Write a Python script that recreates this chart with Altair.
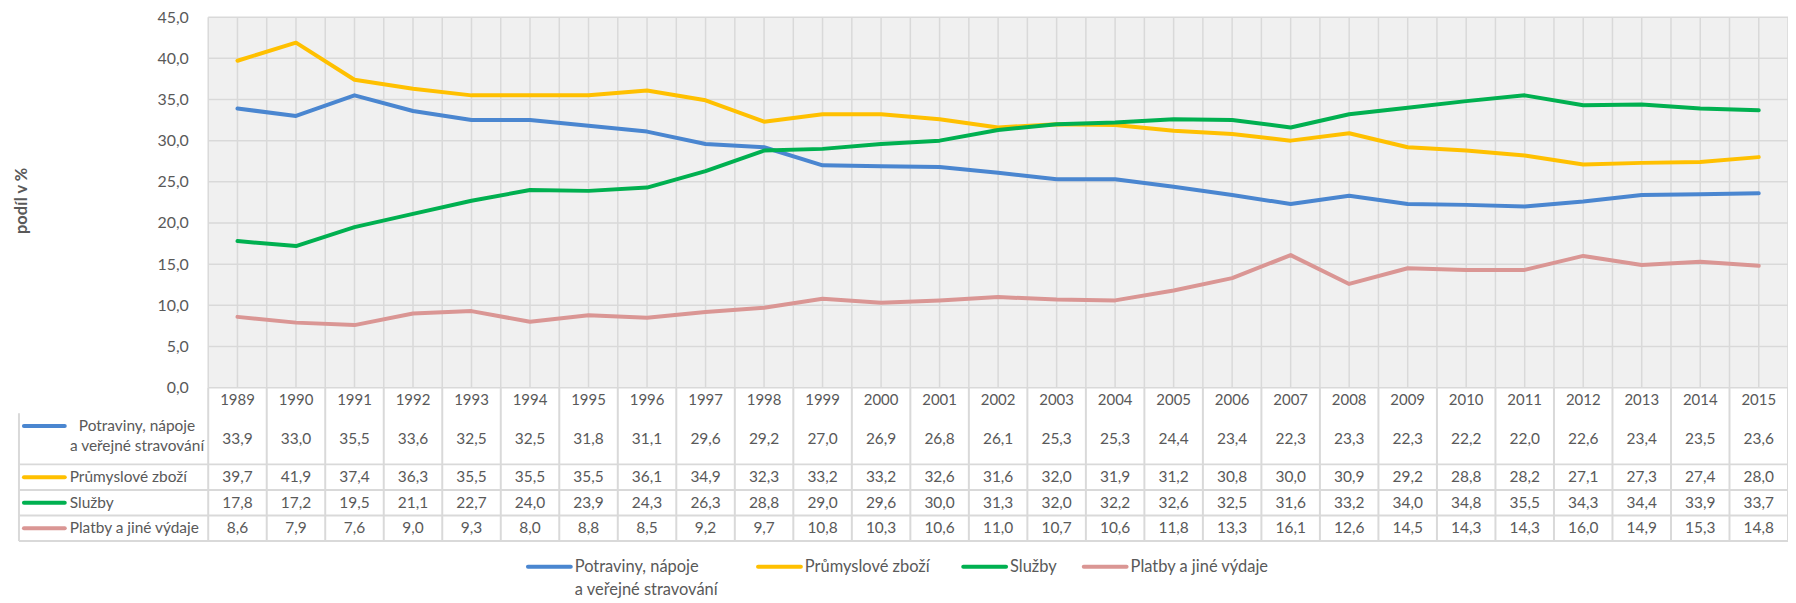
import altair as alt
import pandas as pd

# ---------------- data ----------------
years = list(range(1989, 2016))
series = ["Potraviny, nápoje a veřejné stravování", "Průmyslové zboží", "Služby", "Platby a jiné výdaje"]
series_lines = [["Potraviny, nápoje", "a veřejné stravování"], ["Průmyslové zboží"], ["Služby"], ["Platby a jiné výdaje"]]
colors = ["#4A86D0", "#FFC000", "#00B050", "#DA9694"]

potraviny = [33.9, 33.0, 35.5, 33.6, 32.5, 32.5, 31.8, 31.1, 29.6, 29.2, 27.0, 26.9, 26.8, 26.1,
             25.3, 25.3, 24.4, 23.4, 22.3, 23.3, 22.3, 22.2, 22.0, 22.6, 23.4, 23.5, 23.6]
prumysl = [39.7, 41.9, 37.4, 36.3, 35.5, 35.5, 35.5, 36.1, 34.9, 32.3, 33.2, 33.2, 32.6, 31.6,
           32.0, 31.9, 31.2, 30.8, 30.0, 30.9, 29.2, 28.8, 28.2, 27.1, 27.3, 27.4, 28.0]
sluzby = [17.8, 17.2, 19.5, 21.1, 22.7, 24.0, 23.9, 24.3, 26.3, 28.8, 29.0, 29.6, 30.0, 31.3,
          32.0, 32.2, 32.6, 32.5, 31.6, 33.2, 34.0, 34.8, 35.5, 34.3, 34.4, 33.9, 33.7]
platby = [8.6, 7.9, 7.6, 9.0, 9.3, 8.0, 8.8, 8.5, 9.2, 9.7, 10.8, 10.3, 10.6, 11.0,
          10.7, 10.6, 11.8, 13.3, 16.1, 12.6, 14.5, 14.3, 14.3, 16.0, 14.9, 15.3, 14.8]
values = [potraviny, prumysl, sluzby, platby]

y_ticks = [0, 5, 10, 15, 20, 25, 30, 35, 40, 45]
y_title = "podíl v %"

# ---------------- layout ----------------
PLOT_W, LABEL_W = 1586, 190
PLOT_H, TABLE_H = 372, 154
W, H = PLOT_W + LABEL_W, PLOT_H + TABLE_H
FONT = "Lato"
TXT = "#595959"
GRID = "#d9d9d9"
LEG_SYM_PX = [511, 742, 948, 1069]   # legend symbol left edges (px from chart left)
LEG_SYM_LEN = 43
LEG_ROW_U = 7.0                       # legend first text line, in table row units

col_w = PLOT_W / len(years)
x_plot_lo = years[0] - 0.5
x_hi = years[-1] + 0.5
x_lo = x_plot_lo - LABEL_W / col_w


def px(p):
    """horizontal pixel offset from the chart's left edge -> x units"""
    return x_lo + p / col_w


# table rows in "line units": header = 1, each series = number of label lines
row_start = []
u = 1
for ln in series_lines:
    row_start.append(u)
    u += len(ln)
total_u = u

xs = alt.Scale(domain=[x_lo, x_hi], nice=False, zero=False)
ys = alt.Scale(domain=[0, y_ticks[-1]], range=[PLOT_H, 0], nice=False, zero=False)
ts = alt.Scale(domain=[0, total_u], range=[PLOT_H, H], nice=False, zero=False)

# ---------------- frames ----------------
long_rows = []
for si, (s, vals) in enumerate(zip(series, values)):
    for yr, v in zip(years, vals):
        long_rows.append({"year": yr, "series": s, "value": v,
                          "u": row_start[si] + len(series_lines[si]) / 2})
long_df = pd.DataFrame(long_rows)

bg_df = pd.DataFrame([{"x": x_plot_lo, "x2": x_hi, "y": 0, "y2": y_ticks[-1]}])
vgrid_df = pd.DataFrame({"x": [x_plot_lo + 0.5 * i for i in range(2 * len(years) + 1)],
                         "y": 0, "y2": y_ticks[-1]})
hgrid_df = pd.DataFrame({"y": y_ticks, "x": x_plot_lo, "x2": x_hi})

bounds = [0] + [row_start[i] + len(series_lines[i]) for i in range(len(series))]
t_h_df = pd.DataFrame({"u": bounds[1:], "x": x_lo, "x2": x_hi})
t_v_df = pd.DataFrame({"x": [x_plot_lo + i for i in range(len(years) + 1)], "u": 0, "u2": total_u})
t_left_df = pd.DataFrame({"x": [x_lo], "u": [1], "u2": [total_u]})
hdr_df = pd.DataFrame({"year": years, "u": 0.5})

lab_rows = []
for si, s in enumerate(series):
    lab_rows.append({"label": "\n".join(series_lines[si]),
                     "u_sym": row_start[si] + 0.5, "color": colors[si], "n": len(series_lines[si]),
                     "lx0": px(LEG_SYM_PX[si]), "lx1": px(LEG_SYM_PX[si] + LEG_SYM_LEN),
                     "lxt": px(LEG_SYM_PX[si] + LEG_SYM_LEN + 4), "lu": LEG_ROW_U})
lab_df = pd.DataFrame(lab_rows)

# ---------------- layers ----------------
X = lambda f: alt.X(f, scale=xs, axis=None)
Yp = lambda f: alt.Y(f, scale=ys, axis=None)
Yt = lambda f: alt.Y(f, scale=ts, axis=None)

bg = alt.Chart(bg_df).mark_rect(fill="#f0f0f0").encode(
    x=X("x:Q"), x2="x2:Q", y=Yp("y:Q"), y2="y2:Q")

vgrid = alt.Chart(vgrid_df).mark_rule(color=GRID, strokeWidth=1.5).encode(
    x=X("x:Q"), y=Yp("y:Q"), y2="y2:Q")
hgrid = alt.Chart(hgrid_df).mark_rule(color=GRID, strokeWidth=1.5).encode(
    x=X("x:Q"), x2="x2:Q", y=Yp("y:Q"))

t_h = alt.Chart(t_h_df).mark_rule(color=GRID, strokeWidth=2).encode(
    x=X("x:Q"), x2="x2:Q", y=Yt("u:Q"))
t_v = alt.Chart(t_v_df).mark_rule(color=GRID, strokeWidth=2).encode(
    x=X("x:Q"), y=Yt("u:Q"), y2="u2:Q")
t_left = alt.Chart(t_left_df).mark_rule(color=GRID, strokeWidth=2).encode(
    x=X("x:Q"), y=Yt("u:Q"), y2="u2:Q")

lines = alt.Chart(long_df).mark_line(strokeWidth=4, strokeCap="round", strokeJoin="round").encode(
    x=X("year:Q"),
    y=alt.Y("value:Q", scale=ys,
            axis=alt.Axis(values=y_ticks, offset=-LABEL_W, ticks=False, domain=False, grid=False,
                          labelExpr="replace(format(datum.value, '.1f'), '.', ',')",
                          labelPadding=20, labelFont=FONT, labelFontSize=16, labelColor=TXT,
                          title=y_title, titleX=-187, titleY=184, titleAngle=270,
                          titleBaseline="middle", titleAlign="center", titleFont=FONT,
                          titleFontSize=16.5, titleFontWeight="bold", titleColor=TXT)),
    color=alt.Color("series:N", scale=alt.Scale(domain=series, range=colors), legend=None),
    detail="series:N",
)

hdr = alt.Chart(hdr_df).mark_text(font=FONT, fontSize=15, color=TXT).encode(
    x=X("year:Q"), y=Yt("u:Q"), text="year:N")

vals_t = alt.Chart(long_df).transform_calculate(
    t="replace(format(datum.value, '.1f'), '.', ',')"
).mark_text(font=FONT, fontSize=15.5, color=TXT).encode(
    x=X("year:Q"), y=Yt("u:Q"), text="t:N")

lab_multi = alt.Chart(lab_df).transform_filter("datum.n > 1").transform_calculate(
    xx=str(px(118.5))
).mark_text(font=FONT, fontSize=15.5, color=TXT, align="center", lineBreak="\n", lineHeight=20).encode(
    x=X("xx:Q"), y=Yt("u_sym:Q"), text="label:N")

lab_single = alt.Chart(lab_df).transform_filter("datum.n == 1").transform_calculate(
    xx=str(px(51))
).mark_text(font=FONT, fontSize=15.5, color=TXT, align="left").encode(
    x=X("xx:Q"), y=Yt("u_sym:Q"), text="label:N")

lab_sym = alt.Chart(lab_df).transform_calculate(
    xa=str(px(5)), xb=str(px(46))
).mark_rule(strokeWidth=4, strokeCap="round").encode(
    x=X("xa:Q"), x2="xb:Q", y=Yt("u_sym:Q"), color=alt.Color("color:N", scale=None))

# legend below the table
leg_sym = alt.Chart(lab_df).mark_rule(strokeWidth=4, strokeCap="round").encode(
    x=X("lx0:Q"), x2="lx1:Q", y=Yt("lu:Q"), color=alt.Color("color:N", scale=None))
leg_txt = alt.Chart(lab_df).mark_text(font=FONT, fontSize=16.5, color=TXT, align="left",
                                      lineBreak="\n", lineHeight=23).encode(
    x=X("lxt:Q"), y=Yt("lu:Q"), text="label:N")

chart = alt.layer(
    bg, vgrid, hgrid, t_v, t_h, t_left, lines, hdr, vals_t, lab_multi, lab_single, lab_sym,
    leg_sym, leg_txt
).resolve_scale(y="independent").properties(
    width=W, height=H,
    autosize=alt.AutoSizeParams(type="none"),
    padding={"left": 11, "top": 8, "right": 0, "bottom": 60},
    background="white",
).configure_view(stroke=None)

chart.save("out.html", embed_options={"renderer": "svg", "actions": False})
